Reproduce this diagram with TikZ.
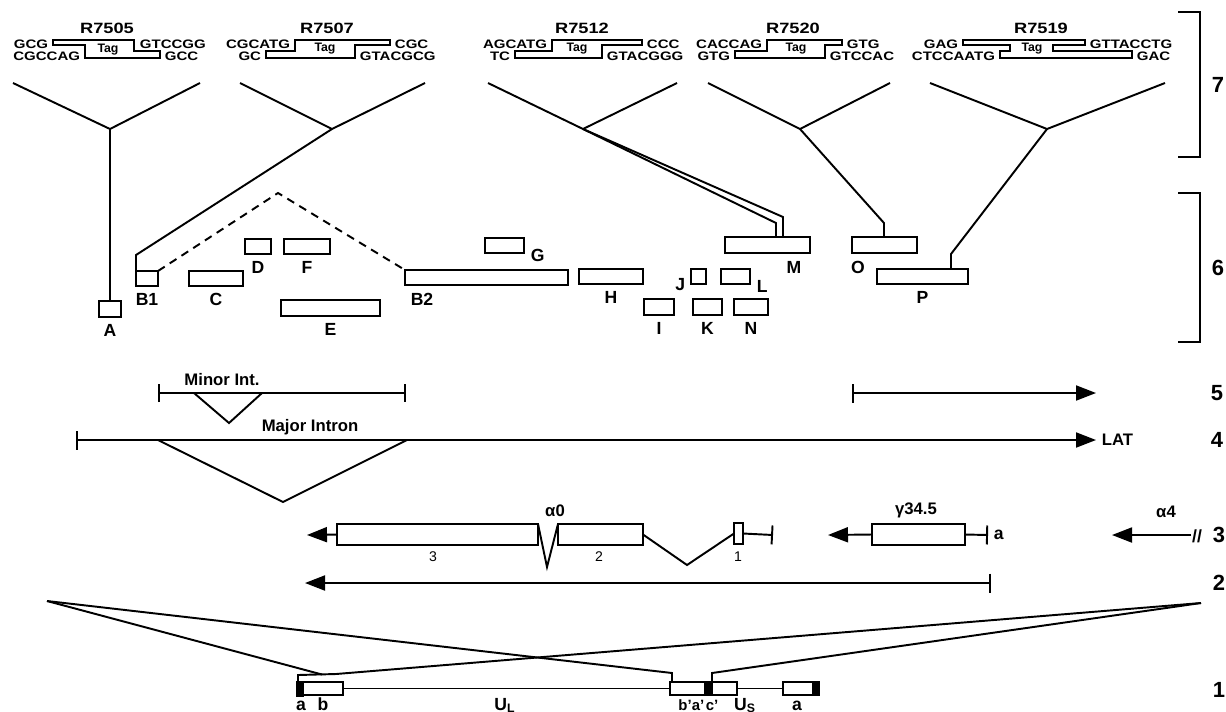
\documentclass[tikz,border=0pt]{standalone}
\usepackage{fontspec}
\setmainfont{Liberation Sans}
\newfontfamily\widefont[FakeStretch=1.22]{Liberation Sans}
\usepackage{tikz}
\usetikzlibrary{arrows.meta,positioning,calc}
\newlength\pxu
\setlength\pxu{0.02cm}

\begin{document}
\begin{tikzpicture}[x=0.02cm, y=-0.02cm, line width=1.1pt,
    frag/.style={draw, rectangle, inner sep=0pt, outer sep=0pt},
    blk/.style={draw, fill=black, rectangle, inner sep=0pt, outer sep=0pt},
    flbl/.style={font=\bfseries\fontsize{10}{12}\selectfont, inner sep=0pt},
    seq/.style={font=\widefont\bfseries\fontsize{7}{8}\selectfont, inner sep=0pt},
    rname/.style={font=\bfseries\fontsize{9.5}{11}\selectfont, inner sep=0pt},
    tname/.style={font=\widefont\bfseries\fontsize{8.5}{10}\selectfont, inner sep=0pt},
    tagtxt/.style={font=\bfseries\fontsize{7}{8}\selectfont, inner sep=0pt},
    exno/.style={font=\fontsize{8}{9}\selectfont, inner sep=0pt},
    rowno/.style={font=\bfseries\fontsize{12.5}{14}\selectfont, inner sep=0pt},
    tri/.style={-{Triangle[length=0.4cm, width=0.3cm]}},
    endbar/.style={-{Bar[width=0.38cm]}},
    bartri/.style={{Bar[width=0.38cm]}-{Triangle[length=0.4cm, width=0.3cm]}},
    barbar/.style={{Bar[width=0.36cm]}-{Bar[width=0.36cm]}}]
    \useasboundingbox (0,0) rectangle (1226,711);

    % row 7: the tagged linkers
    \node[tname] (r05) at (107,28) {R7505};
    \draw (53,40) -- (134,40) -- (134,51) -- (160,51) -- (160,58) -- (85,58) -- (85,45) -- (53,45) -- cycle;
    \node[tagtxt] (t05) at (108,50) {Tag};
    \node[seq, anchor=east] (s05a) at (49,44) {GCG};
    \node[seq, anchor=east] (s05b) at (81,56) {CGCCAG};
    \node[seq, anchor=west] (s05c) at (139,44) {GTCCGG};
    \node[seq, anchor=west] (s05d) at (164,56) {GCC};

    \node[tname] (r07) at (327,28) {R7507};
    \draw (295,40) -- (390,40) -- (390,45) -- (355,45) -- (355,58) -- (266,58) -- (266,51) -- (295,51) -- cycle;
    \node[tagtxt] (t07) at (325,49) {Tag};
    \node[seq, anchor=east] (s07a) at (291,44) {CGCATG};
    \node[seq, anchor=east] (s07b) at (262,56) {GC};
    \node[seq, anchor=west] (s07c) at (394,44) {CGC};
    \node[seq, anchor=west] (s07d) at (359,56) {GTACGCG};

    \node[tname] (r12) at (582,28) {R7512};
    \draw (552,40) -- (642,40) -- (642,45) -- (602,45) -- (602,58) -- (515,58) -- (515,51) -- (552,51) -- cycle;
    \node[tagtxt] (t12) at (577,49) {Tag};
    \node[seq, anchor=east] (s12a) at (548,44) {AGCATG};
    \node[seq, anchor=east] (s12b) at (511,56) {TC};
    \node[seq, anchor=west] (s12c) at (646,44) {CCC};
    \node[seq, anchor=west] (s12d) at (606,56) {GTACGGG};

    \node[tname] (r20) at (793,28) {R7520};
    \draw (767,40) -- (842,40) -- (842,45) -- (825,45) -- (825,58) -- (735,58) -- (735,51) -- (767,51) -- cycle;
    \node[tagtxt] (t20) at (796,49) {Tag};
    \node[seq, anchor=east] (s20a) at (763,44) {CACCAG};
    \node[seq, anchor=east] (s20b) at (731,56) {GTG};
    \node[seq, anchor=west] (s20c) at (846,44) {GTG};
    \node[seq, anchor=west] (s20d) at (829,56) {GTCCAC};

    \node[tname] (r19) at (1041,28) {R7519};
    \draw (963,40) -- (1085,40) -- (1085,45) -- (1053,45) -- (1053,51) -- (1132,51) -- (1132,58) -- (1000,58) -- (1000,51) -- (1010,51) -- (1010,45) -- (963,45) -- cycle;
    \node[tagtxt] (t19) at (1032,49) {Tag};
    \node[seq, anchor=east] (s19a) at (959,44) {GAG};
    \node[seq, anchor=east] (s19b) at (996,56) {CTCCAATG};
    \node[seq, anchor=west] (s19c) at (1089,44) {GTTACCTG};
    \node[seq, anchor=west] (s19d) at (1136,56) {GAC};

    % insertion sites
    \coordinate (v05) at (110,129);
    \coordinate (v07) at (332,129);
    \coordinate (v12) at (583,129);
    \coordinate (v20) at (800,129);
    \coordinate (v19) at (1047,129);
    \draw (13,83) -- (v05) -- (200,83);
    \draw (240,83) -- (v07) -- (425,83);
    \draw (488,83) -- (v12) -- (677,83);
    \draw (708,83) -- (v20) -- (890,83);
    \draw (930,83) -- (v19) -- (1165,83);

    % row 6: fragments
    \node[frag, minimum width=22\pxu, minimum height=16\pxu] (A) at (110,309) {};
    \node[frag, minimum width=22\pxu, minimum height=15\pxu] (B1) at (147,278.5) {};
    \node[frag, minimum width=54\pxu, minimum height=15\pxu] (C) at (216,278.5) {};
    \node[frag, minimum width=26\pxu, minimum height=15\pxu] (D) at (258,246.5) {};
    \node[frag, minimum width=46\pxu, minimum height=15\pxu] (F) at (307,246.5) {};
    \node[frag, minimum width=99\pxu, minimum height=16\pxu] (E) at (330.5,308) {};
    \node[frag, minimum width=163\pxu, minimum height=15\pxu] (B2) at (486.5,277.5) {};
    \node[frag, minimum width=39\pxu, minimum height=15\pxu] (G) at (504.5,245.5) {};
    \node[frag, minimum width=64\pxu, minimum height=15\pxu] (H) at (611,276.5) {};
    \node[frag, minimum width=15\pxu, minimum height=15\pxu] (J) at (698.5,276.5) {};
    \node[frag, minimum width=29\pxu, minimum height=15\pxu] (L) at (735.5,276.5) {};
    \node[frag, minimum width=30\pxu, minimum height=16\pxu] (I) at (659,307) {};
    \node[frag, minimum width=29\pxu, minimum height=16\pxu] (K) at (707.5,307) {};
    \node[frag, minimum width=34\pxu, minimum height=16\pxu] (N) at (751,307) {};
    \node[frag, minimum width=85\pxu, minimum height=16\pxu] (M) at (767.5,245) {};
    \node[frag, minimum width=65\pxu, minimum height=16\pxu] (O) at (884.5,245) {};
    \node[frag, minimum width=91\pxu, minimum height=15\pxu] (P) at (922.5,276.5) {};

    \node[flbl, below=0.13cm of A] (lA) {A};
    \node[flbl, below=0.13cm of B1] (lB1) {B1};
    \node[flbl, below=0.13cm of C] (lC) {C};
    \node[flbl, below=0.13cm of D] (lD) {D};
    \node[flbl, below=0.13cm of F] (lF) {F};
    \node[flbl, below=0.13cm of E] (lE) {E};
    \node[flbl] (lB2) at ($(B2.south west)+(17,14)$) {B2};
    \node[flbl, anchor=west] (lG) at ($(G.south east)+(6,2)$) {G};
    \node[flbl, below=0.13cm of H] (lH) {H};
    \node[flbl, anchor=east] (lJ) at ($(J.south west)+(-5,1)$) {J};
    \node[flbl, anchor=west] (lL) at ($(L.south east)+(6,2)$) {L};
    \node[flbl, below=0.13cm of I] (lI) {I};
    \node[flbl, below=0.13cm of K] (lK) {K};
    \node[flbl, below=0.13cm of N] (lN) {N};
    \node[flbl] (lM) at ($(M.south east)+(-16,14)$) {M};
    \node[flbl] (lO) at ($(O.south west)+(6,14)$) {O};
    \node[flbl, below=0.13cm of P] (lP) {P};

    \draw (v05) -- (A.north);
    \draw (v07) -- ($(B1.north west)+(0,-16)$) -- (B1.north west);
    \draw (v12) -- ($(M.north west)+(51,-14)$) -- ($(M.north west)+(51,0)$);
    \draw (v12) -- ($(M.north west)+(58,-20)$) -- ($(M.north west)+(58,0)$);
    \draw (v20) -- ($(O.north west)+(32,-14)$) -- ($(O.north west)+(32,0)$);
    \draw (v19) -- ($(P.north west)+(74,-15)$) -- ($(P.north west)+(74,0)$);
    \coordinate (peak) at (278,193);
    \draw[dash pattern=on 0.16cm off 0.12cm] (B1.north east) -- (peak) -- (B2.north west);

    % brackets and row numbers
    \draw (1178,12) -- (1200,12) -- (1200,157) -- (1178,157);
    \draw (1178,193) -- (1200,193) -- (1200,342) -- (1178,342);
    \node[rowno] (n7) at (1218,85) {7};
    \node[rowno] (n6) at (1218,268) {6};
    \node[rowno] (n5) at (1217,393) {5};
    \node[rowno] (n4) at (1217,440) {4};
    \node[rowno] (n3) at (1219,535) {3};
    \node[rowno] (n2) at (1219,583) {2};
    \node[rowno] (n1) at (1219,690) {1};

    % rows 5 and 4: LAT introns
    \node[rname] (mint) at (222,380) {Minor Int.};
    \draw[barbar] (158,393) -- (406,393);
    \draw (194,393) -- (229,423) -- (262,393);
    \draw[bartri] (852,393) -- (1096,393);
    \node[rname] (majint) at (310,427) {Major Intron};
    \draw[bartri] (76,440) -- (1096,440);
    \node[rname, anchor=west] (lat) at (1101,440) {LAT};
    \draw (158,440) -- (283,502) -- (407,440);

    % row 3: genes
    \node[rname] (la0) at (555,511) {α0};
    \node[frag, minimum width=201\pxu, minimum height=21\pxu] (ex3) at (437.5,534.5) {};
    \node[frag, minimum width=85\pxu, minimum height=21\pxu] (ex2) at (600.5,534.5) {};
    \node[frag, minimum width=9\pxu, minimum height=21\pxu] (ex1) at (738.5,533.5) {};
    \coordinate (a0tip) at (307,535);
    \coordinate (sp1) at (547,567);
    \coordinate (sp2) at (687,565);
    \draw[tri] (ex3.west) -- (a0tip);
    \draw (ex3.north east) -- (sp1) -- (ex2.north west);
    \draw (ex2.east) -- (sp2) -- (ex1.west);
    \draw[endbar] (ex1.east) -- (773,535);
    \node[exno] (x3) at (433,557) {3};
    \node[exno] (x2) at (599,557) {2};
    \node[exno] (x1) at (738,557) {1};

    \node[rname] (lg) at (916,510) {γ34.5};
    \node[frag, minimum width=93\pxu, minimum height=21\pxu] (g345) at (918.5,534.5) {};
    \draw[tri] (g345.west) -- (828,535);
    \draw[endbar] (g345.east) -- (988,535);
    \node[flbl, anchor=west] (ga) at (993,535) {a};

    \node[rname] (la4) at (1166,512) {α4};
    \coordinate (a4s) at (1191,535);
    \draw[tri] (a4s) -- (1112,535);
    \node[flbl] (brk) at (1197,536) {//};

    % row 2: transcript
    \draw[bartri] (991,583) -- (305,583);

    % row 1: genome
    \node[blk, minimum width=6\pxu, minimum height=14\pxu] (al) at (300,689) {};
    \node[frag, minimum width=40\pxu, minimum height=13\pxu] (bb) at (323,688.5) {};
    \node[frag, minimum width=35\pxu, minimum height=13\pxu] (bp) at (687.5,688.5) {};
    \node[blk, minimum width=7\pxu, minimum height=13\pxu] (ap) at (708.5,688.5) {};
    \node[frag, minimum width=25\pxu, minimum height=13\pxu] (cp) at (724.5,688.5) {};
    \node[frag, minimum width=30\pxu, minimum height=13\pxu] (ar) at (798,688.5) {};
    \node[blk, minimum width=6\pxu, minimum height=13\pxu] (arb) at (816,688.5) {};
    \draw (bb.east) -- (bp.west);
    \draw (cp.east) -- (ar.west);
    \draw (298,682) -- (298,675) -- (336,674);
    \coordinate (fl) at (47,601);
    \coordinate (fr) at (1201,603);
    \coordinate (abtop) at (336,674);
    \coordinate (abmid) at (322,674.5);
    \draw (fl) -- (abmid);
    \draw (fr) -- (abtop);
    \draw (fl) -- ($(bp.north west)+(2,-9)$) -- ($(bp.north west)+(2,0)$);
    \draw (fr) -- ($(cp.north west)+(0,-9)$) -- (cp.north west);

    \node[flbl, anchor=base] (ta) at (301,710) {a};
    \node[flbl, anchor=base] (tb) at (323,710) {b};
    \node[flbl, anchor=base] (tul) at (505,710) {U\textsubscript{L}};
    \node[flbl, anchor=base, font=\bfseries\fontsize{8.5}{10}\selectfont] (tbp) at (685,710) {b'};
    \node[flbl, anchor=base, font=\bfseries\fontsize{8.5}{10}\selectfont] (tap) at (698,710) {a'};
    \node[flbl, anchor=base, font=\bfseries\fontsize{8.5}{10}\selectfont] (tcp) at (712,710) {c'};
    \node[flbl, anchor=base] (tus) at (745,710) {U\textsubscript{S}};
    \node[flbl, anchor=base] (ta2) at (797,710) {a};
\end{tikzpicture}
\end{document}
